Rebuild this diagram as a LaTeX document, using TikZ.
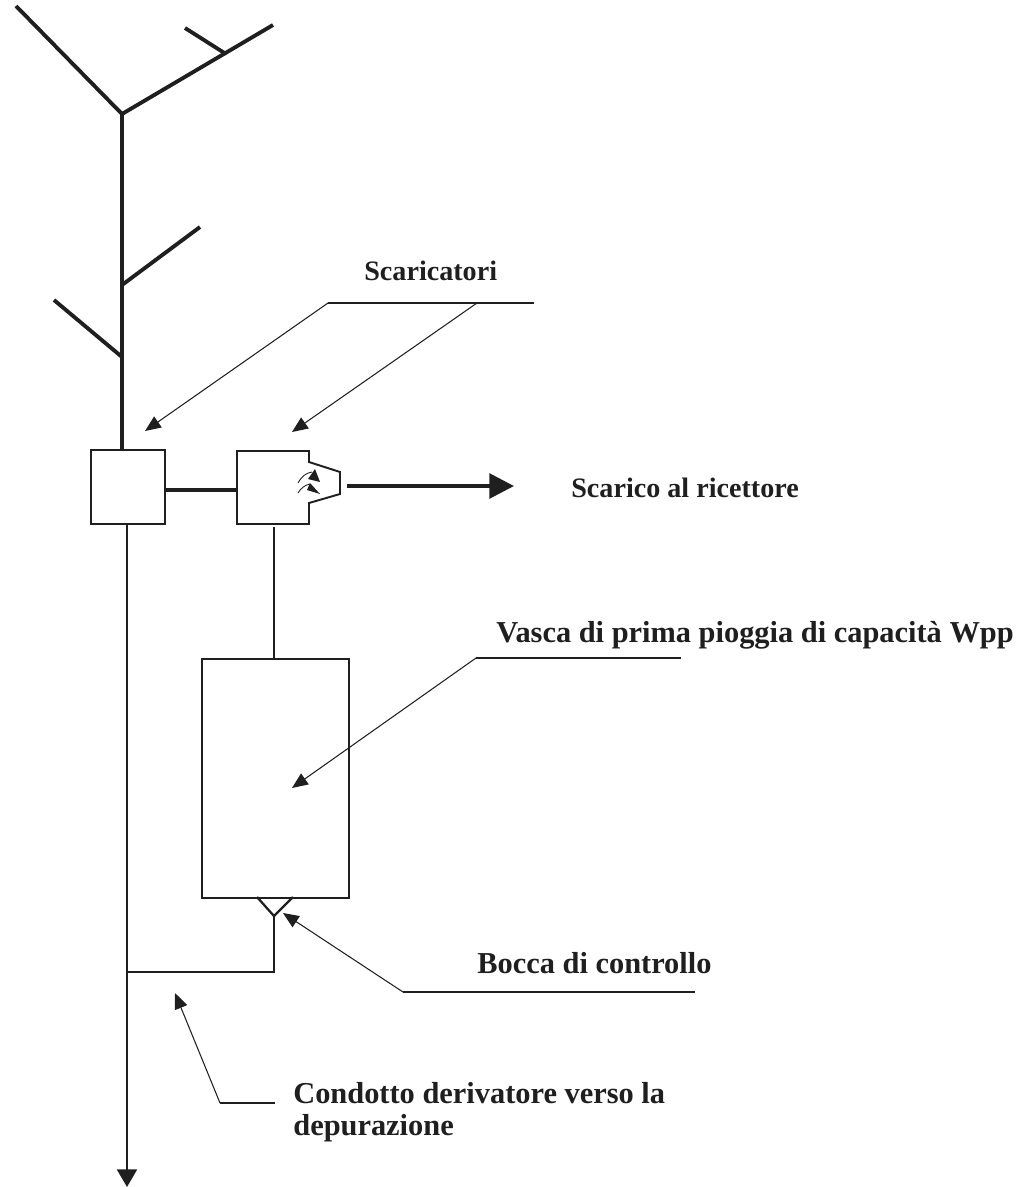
\documentclass[tikz,border=0pt]{standalone}
\usepackage{fontspec}
\setmainfont{Liberation Serif}
\usetikzlibrary{arrows.meta}
\definecolor{ink}{gray}{0.12}
\tikzset{
  x=0.02cm,y=-0.02cm,
  every path/.style={draw=ink,line join=miter},
  thickpipe/.style={line width=2.2pt},
  pipe/.style={line width=1.3pt},
  boxline/.style={line width=1.1pt},
  leader/.style={line width=0.6pt},
  leadarrow/.style={line width=0.6pt,-{Triangle[length=9pt,width=7.5pt]}},
  lbl/.style={draw=none,text=ink,font=\bfseries\fontsize{17.3}{20.4}\selectfont,anchor=base west,inner sep=0pt,align=left},
  lblm/.style={lbl,font=\bfseries\fontsize{16}{20}\selectfont},
  square/.style={draw=ink,boxline,fill=white,inner sep=0pt,minimum width=1.48cm,minimum height=1.48cm,anchor=north west},
  tank/.style={draw=ink,boxline,fill=white,inner sep=0pt,minimum width=2.94cm,minimum height=4.79cm,anchor=north west},
}
\begin{document}
\begin{tikzpicture}
\useasboundingbox[draw=none] (0,0) rectangle (1023,1187);
% tree
\coordinate (t1) at (16,6);
\coordinate (j1) at (122,114);
\coordinate (t2) at (273,25);
\coordinate (j2) at (226,54);
\coordinate (t3) at (185,28);
\coordinate (t4) at (200,227);
\coordinate (j4) at (122,285);
\coordinate (t5) at (54,300);
\coordinate (j5) at (122,357);
\node[square] (b1) at (90,449) {};
\node[tank] (vasca) at (201,658) {};
\draw[thickpipe] (t1) -- (j1) -- (t2);
\draw[thickpipe] (t3) -- (j2);
\draw[thickpipe] (j1) -- (b1.north -| j1);
\draw[thickpipe] (t4) -- (j4);
\draw[thickpipe] (t5) -- (j5);
% discharge chamber
\coordinate (c1) at (237,451);
\coordinate (c2) at (309,451);
\coordinate (c3) at (309,462);
\coordinate (c4) at (340,472);
\coordinate (c5) at (340,494);
\coordinate (c6) at (309,503);
\coordinate (c7) at (309,524);
\coordinate (c8) at (237,524);
\draw[boxline] (c1) -- (c2) -- (c3) -- (c4) -- (c5) -- (c6) -- (c7) -- (c8) -- cycle;
\draw[thickpipe] (b1.east |- 0,490) -- (c1 |- 0,490);
% flap symbols
\path[fill=ink,draw=none] (315,469) -- (320,482) -- (308,479) -- cycle;
\path[fill=ink,draw=none] (310,483) -- (320,494) -- (307,490) -- cycle;
\draw[line width=0.5pt] (298,483) .. controls (302,476) and (306,473) .. (312,472);
\draw[line width=0.5pt] (298,493) .. controls (301,488) and (305,485) .. (310,484);
% outlet
\coordinate (o1) at (347,486);
\coordinate (o2) at (514,486);
\draw[thickpipe,-{Triangle[length=14pt,width=14pt]}] (o1) -- (o2);
% vertical pipes
\coordinate (m1) at (127,1187);
\draw[pipe,-{Triangle[length=10pt,width=11.3pt]}] (b1.south -| m1) -- (m1);
\coordinate (s1) at (274,527);
\draw[pipe] (s1) -- (vasca.north -| s1);
\coordinate (v1) at (257,897);
\coordinate (v2) at (274,916);
\coordinate (v3) at (293,897);
\coordinate (d1) at (274,972);
\coordinate (d2) at (127,972);
\draw[pipe] (v1) -- (v2) -- (v3);
\draw[pipe] (v2) -- (d1) -- (d2);
% labels
\node[lblm] (sc) at (364,280) {Scaricatori};
\node[lblm] (ric) at (571,497) {Scarico al ricettore};
\node[lbl] (vp) at (496,642) {Vasca di prima pioggia di capacità Wpp};
\node[lbl] (bc) at (477,973) {Bocca di controllo};
\node[lbl] (cd) at (293,1103) {Condotto derivatore verso la};
\node[lbl] (cd2) at (293,1135) {depurazione};
% leaders
\coordinate (la) at (534,303);
\coordinate (lb) at (328,303);
\coordinate (lc) at (477,303);
\coordinate (ld) at (145,431);
\coordinate (le) at (292,432);
\draw[leader] (lb) -- (la);
\draw[leadarrow] (lb) -- (ld);
\draw[leadarrow] (lc) -- (le);
\coordinate (va) at (681,658);
\coordinate (vb) at (476,658);
\coordinate (vc) at (292,788);
\draw[leader] (va) -- (vb);
\draw[leadarrow] (vb) -- (vc);
\coordinate (ba) at (695,992);
\coordinate (bb) at (403,992);
\coordinate (bc2) at (283,913);
\draw[leader] (ba) -- (bb);
\draw[leadarrow] (bb) -- (bc2);
\coordinate (ca) at (275,1103);
\coordinate (cb) at (220,1103);
\coordinate (cc) at (175,993);
\draw[leader] (ca) -- (cb);
\draw[leadarrow] (cb) -- (cc);
\end{tikzpicture}
\end{document}
